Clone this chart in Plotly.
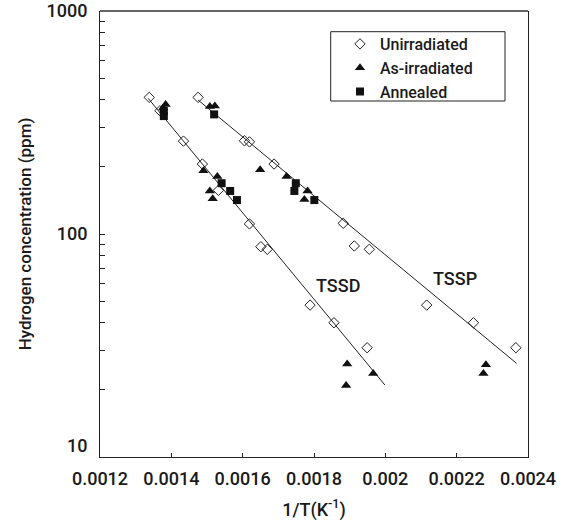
import plotly.graph_objects as go

# Unirradiated (open diamonds)
unirr_x = [0.001338, 0.001368, 0.001434, 0.001487, 0.001532, 0.001619, 0.001651, 0.001669,
           0.001789, 0.001856, 0.001949,
           0.001475, 0.001605, 0.001619, 0.001688, 0.001882, 0.001913, 0.001955,
           0.002116, 0.002247, 0.002366]
unirr_y = [410, 357, 261, 206, 157, 111, 87.7, 85.4, 48.0, 40.0, 30.9,
           410, 262, 259, 206, 111.7, 88.4, 85.4, 48.0, 40.0, 30.9]

# As-irradiated (filled triangles)
asirr_x = [0.001384, 0.001377, 0.001490, 0.001529, 0.001508, 0.001516,
           0.001508, 0.001522, 0.001649, 0.001723, 0.001782, 0.001773,
           0.001893, 0.001890, 0.001966, 0.002282, 0.002275]
asirr_y = [381, 367, 192, 181, 156, 144,
           373, 375, 194, 181, 156, 143,
           26.1, 20.9, 23.7, 25.9, 23.7]

# Annealed (filled squares)
ann_x = [0.001379, 0.001379, 0.001520, 0.001541, 0.001565, 0.001584,
         0.001749, 0.001745, 0.001801]
ann_y = [356, 338, 344, 169, 156, 142, 169, 156, 142]

# Fit lines
tssd_x = [0.001335, 0.001999]
tssd_y = [406, 21.0]
tssp_x = [0.001475, 0.002368]
tssp_y = [399, 26.3]

x_ticks = [0.0012, 0.0014, 0.0016, 0.0018, 0.0020, 0.0022, 0.0024]
x_tick_text = ["0.0012", "0.0014", "0.0016", "0.0018", "0.002", "0.0022", "0.0024"]
y_ticks = [10, 20, 30, 40, 50, 60, 70, 80, 90, 100, 200, 300, 400, 500, 600, 700, 800, 900, 1000]
y_tick_text = ["10<br>&nbsp;", "", "", "", "", "", "", "", "", "100",
               "", "", "", "", "", "", "", "", "1000"]

FONT = "Roboto"
INK = "#1a1a1a"

fig = go.Figure()
fig.add_trace(go.Scatter(x=tssd_x, y=tssd_y, mode="lines", line=dict(color="#222", width=1),
                         showlegend=False, hoverinfo="skip"))
fig.add_trace(go.Scatter(x=tssp_x, y=tssp_y, mode="lines", line=dict(color="#222", width=1),
                         showlegend=False, hoverinfo="skip"))
fig.add_trace(go.Scatter(x=unirr_x, y=unirr_y, mode="markers", name="Unirradiated",
                         marker=dict(symbol="diamond-open", size=8, color="#222",
                                     line=dict(width=1, color="#222"))))
fig.add_trace(go.Scatter(x=asirr_x, y=asirr_y, mode="markers", name="As-irradiated",
                         marker=dict(symbol="triangle-up", size=9, color="#111")))
fig.add_trace(go.Scatter(x=ann_x, y=ann_y, mode="markers", name="Annealed",
                         marker=dict(symbol="square", size=8, color="#111")))

fig.add_annotation(x=0.001866, y=1.771, xref="x", yref="y", text="TSSD", showarrow=False,
                   font=dict(family=FONT, size=18, color=INK, weight=500))
fig.add_annotation(x=0.0021967, y=1.801, xref="x", yref="y", text="TSSP", showarrow=False,
                   font=dict(family=FONT, size=18, color=INK, weight=500))

# top border (gray)
fig.add_shape(type="line", xref="paper", yref="paper", x0=0, x1=1, y0=1, y1=1,
              line=dict(color="#666", width=2), layer="above")
# legend box
fig.add_shape(type="rect", xref="paper", yref="paper",
              x0=(330.7 - 100) / 428, x1=(505 - 100) / 428,
              y0=(457 - 101) / 446, y1=(457 - 31.7) / 446,
              line=dict(color="#222", width=1), fillcolor="rgba(0,0,0,0)")

fig.update_layout(
    width=567, height=526,
    margin=dict(l=100, r=39, t=11, b=69, autoexpand=False),
    paper_bgcolor="white", plot_bgcolor="white",
    font=dict(family=FONT, color=INK),
    legend=dict(x=(340 - 100) / 428, y=(457 - 27) / 446, xanchor="left", yanchor="top",
                bgcolor="rgba(0,0,0,0)", borderwidth=0,
                font=dict(family=FONT, size=16, color=INK, weight=500),
                tracegroupgap=0, itemsizing="trace"),
    xaxis=dict(range=[0.0012, 0.0024], tickvals=x_ticks, ticktext=x_tick_text,
               ticks="inside", ticklen=4, tickcolor="#222", showline=True, linecolor="#222",
               linewidth=1, showgrid=False, zeroline=False, automargin=False,
               tickfont=dict(family=FONT, size=18, color=INK, weight=500),
               ticklabelstandoff=5,
               title=dict(text="1/T(K<sup>-1</sup>)", standoff=15,
                          font=dict(family=FONT, size=18, color=INK, weight=500))),
    yaxis=dict(type="log", range=[1, 3.0002], tickvals=y_ticks, ticktext=y_tick_text,
               ticks="inside", ticklen=5, tickcolor="#222", showline=True, linecolor="#222",
               linewidth=1, mirror=True, showgrid=False, zeroline=False, automargin=False,
               tickfont=dict(family=FONT, size=18, color=INK, weight=500),
               ticklabelstandoff=8,
               title=dict(text="Hydrogen concentration (ppm)", standoff=10,
                          font=dict(family=FONT, size=17, color=INK, weight=500))),
)

fig.write_html("out.html")
